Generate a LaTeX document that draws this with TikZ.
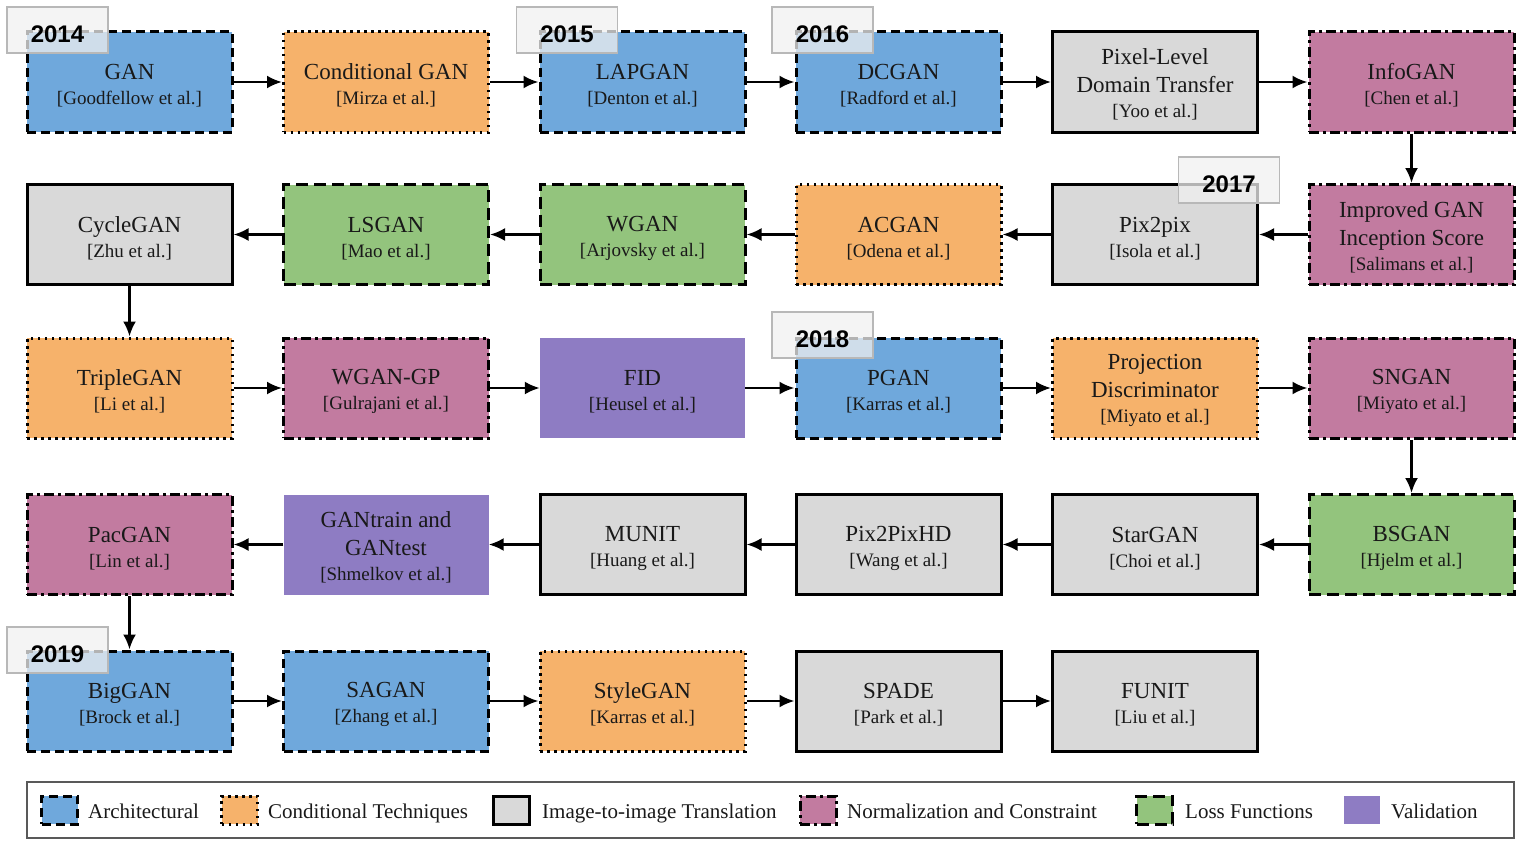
\documentclass[tikz,border=0pt]{standalone}
\usepackage{fontspec}
\setmainfont{Liberation Serif}
\newfontfamily\yearfont{Liberation Sans}
\usetikzlibrary{arrows.meta}
\definecolor{carch}{HTML}{6FA8DC}
\definecolor{ccond}{HTML}{F6B26B}
\definecolor{cimg}{HTML}{D9D9D9}
\definecolor{cnorm}{HTML}{C27BA0}
\definecolor{closs}{HTML}{93C47D}
\definecolor{cval}{HTML}{8E7CC3}
\newcommand\authline[1]{{\fontsize{19}{22}\selectfont #1}}
\newcommand\twol[2]{\rule{0pt}{23pt}#1\\\authline{#2}}
\newcommand\threel[3]{\rule{0pt}{21pt}#1\\[3pt]#2\\\authline{#3}}
\tikzset{
  box/.style={minimum width=205pt, minimum height=100pt, align=center, inner sep=0pt,
    font=\fontsize{23}{25}\selectfont, text=black!90},
  arch/.style={box, fill=carch, draw=black, line width=3pt, dash pattern=on 9pt off 5pt},
  cond/.style={box, fill=ccond, draw=black, line width=3pt, dash pattern=on 2.5pt off 4.5pt},
  img/.style={box, fill=cimg, draw=black, line width=3pt},
  norm/.style={box, fill=cnorm, draw=black, line width=3pt, dash pattern=on 10pt off 4pt on 3pt off 4pt},
  loss/.style={box, fill=closs, draw=black, line width=3pt, dash pattern=on 12pt off 6pt},
  valid/.style={box, fill=cval},
  arr/.style={-{Latex[length=15pt,width=13pt]}, line width=2.5pt},
  tag/.style={draw=black!28, fill=black!6, fill opacity=0.75, line width=1.5pt,
    minimum width=101pt, minimum height=46pt, inner sep=0pt},
  tagtext/.style={font=\yearfont\bfseries\fontsize{24}{24}\selectfont, inner sep=0pt},
  sw/.style={minimum width=36pt, minimum height=28pt, inner sep=0pt},
  legtext/.style={anchor=base west, font=\fontsize{21}{24}\selectfont, inner sep=0pt, text=black!90},
}
\begin{document}
\begin{tikzpicture}[x=1pt,y=-1pt]
\useasboundingbox (0,0) rectangle (1522,843);
% row 1
\node[arch] (gan) at (129.5,82) {\twol{GAN}{[Goodfellow et al.]}};
\node[cond] (cgan) at (386,82) {\twol{Conditional GAN}{[Mirza et al.]}};
\node[arch] (lapgan) at (642.5,82) {\twol{LAPGAN}{[Denton et al.]}};
\node[arch] (dcgan) at (898.5,82) {\twol{DCGAN}{[Radford et al.]}};
\node[img] (pixel) at (1155,82) {\threel{Pixel-Level}{Domain Transfer}{[Yoo et al.]}};
\node[norm] (info) at (1411.5,82) {\twol{InfoGAN}{[Chen et al.]}};
% row 2
\node[norm] (impr) at (1411.5,234.5) {\threel{Improved GAN}{Inception Score}{[Salimans et al.]}};
\node[img] (p2p) at (1155,234.5) {\twol{Pix2pix}{[Isola et al.]}};
\node[cond] (acgan) at (898.5,234.5) {\twol{ACGAN}{[Odena et al.]}};
\node[loss] (wgan) at (642.5,234.5) {\twol{WGAN}{[Arjovsky et al.]}};
\node[loss] (lsgan) at (386,234.5) {\twol{LSGAN}{[Mao et al.]}};
\node[img] (cycle) at (129.5,234.5) {\twol{CycleGAN}{[Zhu et al.]}};
% row 3
\node[cond] (triple) at (129.5,388) {\twol{TripleGAN}{[Li et al.]}};
\node[norm] (wgangp) at (386,388) {\twol{WGAN-GP}{[Gulrajani et al.]}};
\node[valid] (fid) at (642.5,388) {\twol{FID}{[Heusel et al.]}};
\node[arch] (pgan) at (898.5,388) {\twol{PGAN}{[Karras et al.]}};
\node[cond] (proj) at (1155,388) {\threel{Projection}{Discriminator}{[Miyato et al.]}};
\node[norm] (sngan) at (1411.5,388) {\twol{SNGAN}{[Miyato et al.]}};
% row 4
\node[loss] (bsgan) at (1411.5,544.5) {\twol{BSGAN}{[Hjelm et al.]}};
\node[img] (star) at (1155,544.5) {\twol{StarGAN}{[Choi et al.]}};
\node[img] (p2phd) at (898.5,544.5) {\twol{Pix2PixHD}{[Wang et al.]}};
\node[img] (munit) at (642.5,544.5) {\twol{MUNIT}{[Huang et al.]}};
\node[valid] (gantrain) at (386,544.5) {\threel{GANtrain and}{GANtest}{[Shmelkov et al.]}};
\node[norm] (pac) at (129.5,544.5) {\twol{PacGAN}{[Lin et al.]}};
% row 5
\node[arch] (big) at (129.5,701) {\twol{BigGAN}{[Brock et al.]}};
\node[arch] (sagan) at (386,701) {\twol{SAGAN}{[Zhang et al.]}};
\node[cond] (style) at (642.5,701) {\twol{StyleGAN}{[Karras et al.]}};
\node[img] (spade) at (898.5,701) {\twol{SPADE}{[Park et al.]}};
\node[img] (funit) at (1155,701) {\twol{FUNIT}{[Liu et al.]}};
% arrows
\draw[arr] (gan) -- (cgan);
\draw[arr] (cgan) -- (lapgan);
\draw[arr] (lapgan) -- (dcgan);
\draw[arr] (dcgan) -- (pixel);
\draw[arr] (pixel) -- (info);
\draw[arr] (info) -- (impr);
\draw[arr] (impr) -- (p2p);
\draw[arr] (p2p) -- (acgan);
\draw[arr] (acgan) -- (wgan);
\draw[arr] (wgan) -- (lsgan);
\draw[arr] (lsgan) -- (cycle);
\draw[arr] (cycle) -- (triple);
\draw[arr] (triple) -- (wgangp);
\draw[arr] (wgangp) -- (fid);
\draw[arr] (fid) -- (pgan);
\draw[arr] (pgan) -- (proj);
\draw[arr] (proj) -- (sngan);
\draw[arr] (sngan) -- (bsgan);
\draw[arr] (bsgan) -- (star);
\draw[arr] (star) -- (p2phd);
\draw[arr] (p2phd) -- (munit);
\draw[arr] (munit) -- (gantrain);
\draw[arr] (gantrain) -- (pac);
\draw[arr] (pac) -- (big);
\draw[arr] (big) -- (sagan);
\draw[arr] (sagan) -- (style);
\draw[arr] (style) -- (spade);
\draw[arr] (spade) -- (funit);
% year tags
\node[tag] (t14) at (57.5,30) {};
\node[tagtext] at ([yshift=-4pt]t14.center) {2014};
\node[tag] (t15) at (567,30) {};
\node[tagtext] at ([yshift=-4pt]t15.center) {2015};
\node[tag] (t16) at (822.5,30) {};
\node[tagtext] at ([yshift=-4pt]t16.center) {2016};
\node[tag] (t17) at (1229,180) {};
\node[tagtext] at ([yshift=-4pt]t17.center) {2017};
\node[tag] (t18) at (822.5,335) {};
\node[tagtext] at ([yshift=-4pt]t18.center) {2018};
\node[tag] (t19) at (57.5,650) {};
\node[tagtext] at ([yshift=-4pt]t19.center) {2019};
% legend
\node[draw=black!65, line width=1.5pt, minimum width=1487pt, minimum height=56pt, inner sep=0pt] (legend) at (770.5,810) {};
\node[sw, fill=carch, draw=black, line width=3pt, dash pattern=on 9pt off 5pt] (s1) at (59.5,810) {};
\node[legtext] (l1) at (88,818) {Architectural};
\node[sw, fill=ccond, draw=black, line width=3pt, dash pattern=on 2.5pt off 4.5pt] (s2) at (239.5,810) {};
\node[legtext] (l2) at (268,818) {Conditional Techniques};
\node[sw, fill=cimg, draw=black, line width=3pt] (s3) at (511,810) {};
\node[legtext] (l3) at (542,818) {Image-to-image Translation};
\node[sw, fill=cnorm, draw=black, line width=3pt, dash pattern=on 10pt off 4pt on 3pt off 4pt] (s4) at (818,810) {};
\node[legtext] (l4) at (847,818) {Normalization and Constraint};
\node[sw, fill=closs, draw=black, line width=3pt, dash pattern=on 12pt off 6pt] (s5) at (1154.5,810) {};
\node[legtext] (l5) at (1185,818) {Loss Functions};
\node[sw, fill=cval] (s6) at (1361.5,810) {};
\node[legtext] (l6) at (1391,818) {Validation};
\end{tikzpicture}
\end{document}
